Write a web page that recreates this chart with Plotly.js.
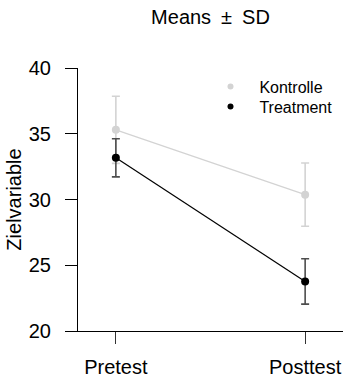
<!DOCTYPE html>
<html>
<head>
<meta charset="utf-8">
<script src="https://cdn.plot.ly/plotly-3.0.1.min.js"></script>
<style>html,body{margin:0;padding:0;background:#fff;}#chart{width:344px;height:377px;}</style>
</head>
<body>
<div id="chart"></div>
<script>
// Data
const timepoints = [1, 2];
const tickLabels = ['Pretest', 'Posttest'];
const groupNames = ['Kontrolle', 'Treatment'];
const kontrolleMean = [35.3, 30.37];
const kontrolleSD = [2.55, 2.4];
const treatmentMean = [33.17, 23.77];
const treatmentSD = [1.45, 1.73];
const yTicks = [20, 25, 30, 35, 40];

const FONT = 'Liberation Sans, Arial, Helvetica, sans-serif';
const PAD = '\u00A0\u00A0';

const traces = [
  {
    x: timepoints, y: kontrolleMean, type: 'scatter', mode: 'lines+markers',
    name: groupNames[0], showlegend: false,
    line: {color: '#d3d3d3', width: 1.2},
    marker: {color: '#d3d3d3', size: 8},
    error_y: {type: 'data', array: kontrolleSD, visible: true, color: '#d3d3d3', thickness: 1.6, width: 4}
  },
  {
    x: timepoints, y: treatmentMean, type: 'scatter', mode: 'lines+markers',
    name: groupNames[1], showlegend: false,
    line: {color: '#000000', width: 1.2},
    marker: {color: '#000000', size: 8},
    error_y: {type: 'data', array: treatmentSD, visible: true, color: '#4d4d4d', thickness: 1.6, width: 4}
  },
  {
    x: [null], y: [null], type: 'scatter', mode: 'markers', name: PAD + groupNames[0],
    marker: {color: '#d3d3d3', size: 6}, showlegend: true, legend: 'legend'
  },
  {
    x: [null], y: [null], type: 'scatter', mode: 'markers', name: PAD + groupNames[1],
    marker: {color: '#000000', size: 6}, showlegend: true, legend: 'legend2'
  }
];

const legendBase = {
  xanchor: 'left', yanchor: 'top',
  bgcolor: 'rgba(0,0,0,0)', borderwidth: 0,
  font: {family: FONT, size: 16, color: '#000'},
  itemwidth: 30
};

const layout = {
  width: 344, height: 377,
  margin: {l: 78, r: 1, t: 68, b: 46, pad: 0},
  paper_bgcolor: '#ffffff', plot_bgcolor: '#ffffff',
  font: {family: FONT, size: 20, color: '#000000'},
  title: {
    text: 'Means\u2002\u00B1\u2002SD', font: {family: FONT, size: 20, color: '#000'},
    x: 0.5, xref: 'paper', xanchor: 'center',
    y: 1 - 17 / 377, yref: 'container', yanchor: 'middle'
  },
  xaxis: {
    range: [0.8, 2.2], tickvals: timepoints, ticktext: tickLabels,
    showgrid: false, zeroline: false, showline: true, linecolor: '#000', linewidth: 1,
    ticks: 'outside', ticklen: 12, tickcolor: '#333', tickwidth: 1,
    ticklabelstandoff: 6,
    tickfont: {family: FONT, size: 20, color: '#000'}
  },
  yaxis: {
    range: [20, 40], tickvals: yTicks,
    showgrid: false, zeroline: false, showline: true, linecolor: '#000', linewidth: 1,
    ticks: 'outside', ticklen: 12, tickcolor: '#000', tickwidth: 1,
    ticklabelstandoff: 10,
    tickfont: {family: FONT, size: 20, color: '#000'},
    title: {text: 'Zielvariable', font: {family: FONT, size: 20, color: '#000'}, standoff: 1}
  },
  showlegend: true,
  legend: Object.assign({}, legendBase, {x: 0.5, y: 0.994}),
  legend2: Object.assign({}, legendBase, {x: 0.5, y: 0.918})
};

Plotly.newPlot('chart', traces, layout, {staticPlot: true, displayModeBar: false});
</script>
</body>
</html>
